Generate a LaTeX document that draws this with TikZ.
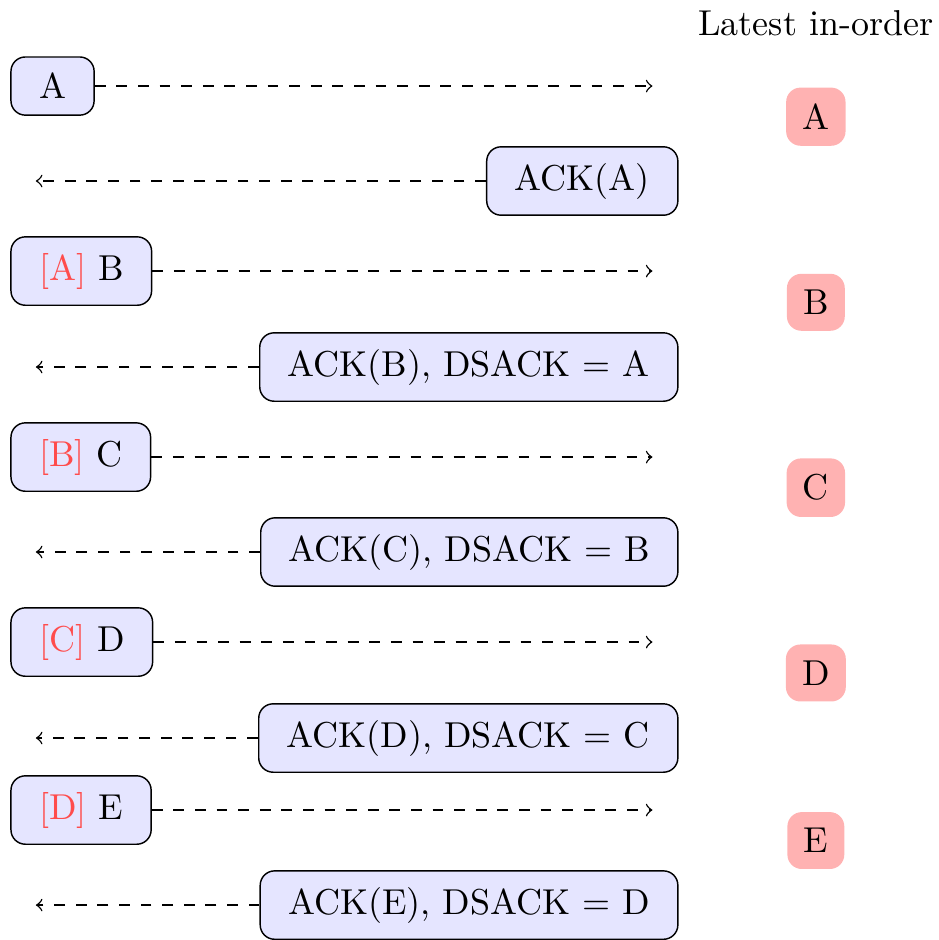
\documentclass[tikz,border=0pt]{standalone}
\newcommand{\resent}[1]{\textcolor{red!70}{[#1]}}

\begin{document}
\begin{tikzpicture}[
    pkt/.style={draw, fill=blue!10, rounded corners, inner xsep=7.8pt, inner ysep=4.5pt},
    ord/.style={fill=red!30, rounded corners, inner sep=4.5pt},
    msg/.style={->, dashed}]
  \def\xl{0.1}    % left edge of sender boxes
  \def\xr{6.625}  % right edge of ack boxes
  \def\xo{7.965}  % column of in-order packets
  \useasboundingbox (0,0) rectangle (9.158,-9.177);
  \node[anchor=base] (hdr) at (\xo,-0.342) {Latest in-order};
  % sent packets
  \foreach \i/\y/\t in {1/0.840/A, 2/2.646/\resent{A} B, 3/4.462/\resent{B} C,
                        4/6.268/\resent{C} D, 5/7.908/\resent{D} E}
  { \node[pkt, anchor=west] (snd\i) at (\xl,-\y) {\t};
    \coordinate (sndend\i) at (6.37,-\y);
    \draw[msg] (snd\i) -- (sndend\i); }
  % acks
  \foreach \i/\y/\t in {1/1.767/{ACK(A)}, 2/3.583/{ACK(B), DSACK = A},
                        3/5.389/{ACK(C), DSACK = B},
                        4/7.205/{ACK(D), DSACK = C},
                        5/8.836/{ACK(E), DSACK = D}}
  { \node[pkt, anchor=east] (ack\i) at (\xr,-\y) {\t};
    \coordinate (ackend\i) at (0.35,-\y);
    \draw[msg] (ack\i) -- (ackend\i); }
  % in-order column
  \foreach \i/\y/\t in {1/1.139/A, 2/2.951/B, 3/4.761/C, 4/6.570/D, 5/8.206/E}
  { \node[ord] (ino\i) at (\xo,-\y) {\t}; }
\end{tikzpicture}
\end{document}
